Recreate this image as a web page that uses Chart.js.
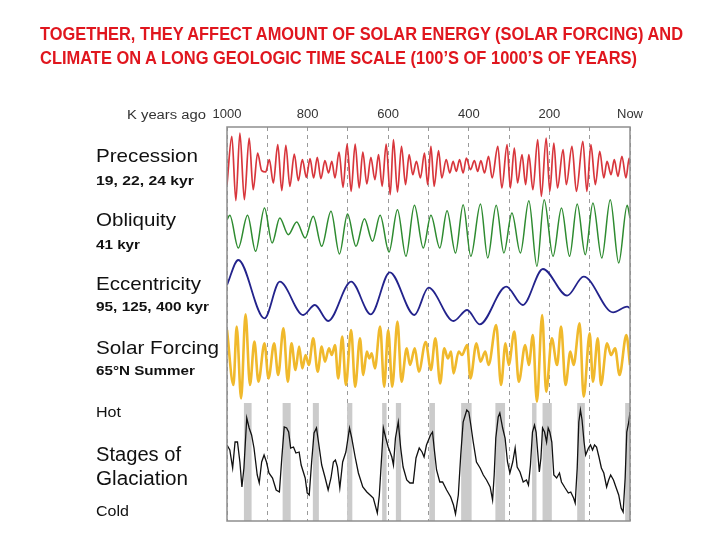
<!DOCTYPE html>
<html><head><meta charset="utf-8">
<script src="https://cdn.jsdelivr.net/npm/chart.js@4.4.1/dist/chart.umd.min.js"></script>
<style>
html,body{margin:0;padding:0;background:#fff;}
#wrap{position:relative;width:720px;height:540px;overflow:hidden;background:#fff;}
canvas{position:absolute;left:0;top:0;}
.t{position:absolute;white-space:nowrap;line-height:1;transform-origin:0 0;font-family:"Liberation Sans",Arial,sans-serif;color:#111;}
.title{color:#e0161e;font-weight:bold;font-size:18px;left:40px;}
.big{font-size:19px;left:96px;}
.sub{font-size:13px;font-weight:bold;left:96px;}
.mid{font-size:15px;left:96px;}
.stg{font-size:20px;left:96px;}
</style></head><body>
<div id="wrap">
<canvas id="c" width="720" height="540"></canvas>
<div class="t title" style="top:25px" data-w="643">TOGETHER, THEY AFFECT AMOUNT OF SOLAR ENERGY (SOLAR FORCING) AND</div>
<div class="t title" style="top:49px" data-w="597">CLIMATE ON A LONG GEOLOGIC TIME SCALE (100’S OF 1000’S OF YEARS)</div>
<div class="t" style="left:127px;top:109px;font-size:12px;color:#333" data-w="79">K years ago</div>
<div class="t big" style="top:146px" data-w="102">Precession</div>
<div class="t sub" style="top:174px" data-w="98">19, 22, 24 kyr</div>
<div class="t big" style="top:210px" data-w="80">Obliquity</div>
<div class="t sub" style="top:238px" data-w="44">41 kyr</div>
<div class="t big" style="top:274px" data-w="105">Eccentricity</div>
<div class="t sub" style="top:300px" data-w="113">95, 125, 400 kyr</div>
<div class="t big" style="top:338px" data-w="123">Solar Forcing</div>
<div class="t sub" style="top:364px" data-w="99">65°N Summer</div>
<div class="t mid" style="top:404px" data-w="25">Hot</div>
<div class="t stg" style="top:444px" data-w="85">Stages of</div>
<div class="t stg" style="top:468px" data-w="92">Glaciation</div>
<div class="t mid" style="top:503px" data-w="33">Cold</div>
</div>
<script>
// ---- data (ages in thousands of years ago; values in relative units) ----
const tickValues = [1000, 800, 600, 400, 200, 0];
const tickLabels = ['1000', '800', '600', '400', '200', 'Now'];

const precessionAge = [1000,988,978,968,957,945,935,924,914,904,895,885,874,864,854,844,833,823,813,803,794,785,776,767,757,748,740,732,722,712,702,692,682,672,663,653,643,633,624,615,605,595,587,577,567,557,548,539,530,520,510,502,494,486,475,467,456,447,439,431,423,414,406,396,386,378,370,361,351,342,328,318,305,297,287,279,268,259,251,241,229,220,208,199,189,180,166,158,144,133,117,107,97,86,75,65,57,47,39,30,20,10,2,0];
const precessionValue = [-56,89,-104,99,-101,84,-71,39,-14,-18,19,-51,64,-74,62,-61,36,-44,19,-34,22,-36,26,-38,16,-21,14,-36,42,-64,66,-76,66,-66,42,-54,26,-41,34,-61,66,-86,79,-78,59,-56,34,-26,14,-36,39,-56,59,-61,46,-36,19,-21,14,-16,19,-21,24,-11,16,-16,16,-21,29,-36,59,-66,64,-66,54,-51,34,-56,34,-71,79,-91,84,-76,69,-66,49,-56,59,-76,74,-76,64,-56,44,-36,14,-26,19,-31,29,-36,24,4];

const obliquityAge = [1000,993,972,949,929,907,888,869,848,827,806,786,765,742,721,701,680,659,639,620,598,577,556,535,513,494,472,454,433,414,395,371,353,332,313,293,272,251,231,213,191,170,150,131,111,92,70,49,28,7,0];
const obliquityValue = [40,53,-45,53,-55,75,-30,45,-5,33,-15,50,-40,65,-63,57,-40,43,-25,53,-57,70,-70,83,-45,53,-45,67,-60,85,-70,87,-75,83,-60,60,-60,97,-100,100,-70,75,-70,87,-65,90,-75,100,-90,83,45];

const eccentricityAge = [1000,972,907,869,811,782,749,692,643,596,535,500,438,404,373,307,266,216,156,115,42,7,0];
const eccentricityValue = [15,90,-85,25,-75,-45,-93,25,-73,53,-75,7,-93,-60,-103,10,-45,63,-17,40,-67,-50,-55];

const solarAge = [1000,984,976,965,954,943,932,922,907,897,883,873,860,849,840,830,821,813,805,797,786,775,765,757,747,740,732,724,714,705,692,682,670,662,653,647,641,633,620,610,600,590,577,567,554,546,534,524,507,494,483,471,461,452,444,438,425,417,404,396,381,371,359,351,332,320,309,301,287,276,260,251,241,231,218,208,194,181,171,160,148,140,125,115,100,92,80,72,57,47,37,26,9,0];
const solarValue = [81,-84,91,-124,128,-84,46,-74,41,-64,41,-54,86,-74,41,-39,31,-34,6,-24,56,-44,31,-14,26,6,36,-64,61,-84,81,-89,56,-54,16,-4,11,-34,91,-89,81,-89,106,-74,26,-24,26,-44,45,-39,56,-79,26,-4,16,-49,16,6,36,-64,41,-14,16,-24,96,-84,41,-24,76,-74,36,-24,66,-134,126,-104,56,-24,91,-84,16,-24,101,-119,71,-74,56,-84,41,6,26,-54,66,-24];

const glaciationAge = [1000,993,986,980,974,968,963,958,951,945,939,933,925,920,914,908,902,896,887,878,870,864,858,852,847,842,835,829,821,816,806,801,796,790,784,778,773,765,757,749,742,736,731,726,720,713,705,696,691,682,674,663,653,645,637,627,622,616,612,606,600,591,587,582,575,569,563,554,546,538,531,523,516,511,505,495,490,486,480,472,465,455,445,438,433,426,420,414,405,400,395,389,381,372,364,356,347,341,337,333,327,323,316,310,304,298,291,285,280,273,265,257,252,247,242,237,233,229,225,221,217,212,207,203,199,194,189,182,175,170,161,153,147,140,136,131,127,123,119,114,110,103,98,93,88,83,77,71,65,58,53,48,41,35,28,22,17,12,8,3,0];
const glaciationValue = [70,65,47,73,73,53,28,47,97,87,80,67,40,32,53,60,53,42,37,25,23,57,88,87,83,67,68,62,63,50,37,22,20,53,82,87,73,50,38,25,37,53,55,48,27,53,63,87,78,58,42,28,23,20,17,2,20,60,87,77,68,58,50,77,93,67,48,35,32,32,57,67,63,58,70,80,83,67,45,33,33,25,18,10,1,20,60,93,105,103,90,73,53,47,40,35,28,15,40,77,98,102,87,77,53,42,53,67,48,43,33,35,30,50,83,90,83,63,43,57,87,83,73,87,83,73,40,37,42,33,27,22,23,17,12,47,93,105,95,73,60,67,70,65,70,68,58,47,42,28,35,40,35,28,20,7,3,37,83,93,103];

// interglacial (warm) periods, shaded
const warmStart = [958,862,787,702,615,581,498,419,334,243,217,131,12];
const warmEnd   = [939,842,772,689,604,568,484,393,310,232,194,112,0];

// ---- scale text to measured widths ----
document.querySelectorAll('[data-w]').forEach(el => {
  const w = parseFloat(el.dataset.w);
  const nat = el.getBoundingClientRect().width;
  if (nat > 0) el.style.transform = 'scaleX(' + (w / nat) + ')';
});

const pts = (a, v) => a.map((x, i) => ({x: x, y: v[i]}));
const warmPts = [{x: 1000, y: 0}];
warmStart.forEach((s, i) => { warmPts.push({x: s, y: 1}); warmPts.push({x: warmEnd[i], y: i === warmStart.length - 1 ? 1 : 0}); });

const line = (id, data, color, w, extra) => Object.assign({
  data: data, yAxisID: id, borderColor: color, borderWidth: w, pointRadius: 0,
  fill: false, cubicInterpolationMode: 'monotone', order: 1
}, extra || {});

const frame = {
  id: 'frame',
  afterDraw(c) {
    const a = c.chartArea, ctx = c.ctx;
    ctx.save();
    ctx.strokeStyle = '#8e8e8e';
    ctx.lineWidth = 1.5;
    ctx.strokeRect(a.left, a.top, a.right - a.left, a.bottom - a.top);
    ctx.restore();
  }
};

const hid = (min, max) => ({type: 'linear', display: false, min: min, max: max});

new Chart(document.getElementById('c'), {
  type: 'line',
  data: {
    datasets: [
      {data: warmPts, yAxisID: 'yB', stepped: 'before', borderWidth: 0, borderColor: 'rgba(0,0,0,0)',
       backgroundColor: '#cbcbcb', fill: 'origin', pointRadius: 0, order: 10},
      line('yP', pts(precessionAge, precessionValue), '#d8363c', 1.7),
      line('yO', pts(obliquityAge, obliquityValue), '#2e8b30', 1.5),
      line('yE', pts(eccentricityAge, eccentricityValue), '#23238c', 1.8),
      line('yS', pts(solarAge, solarValue), '#f0b92c', 2.6),
      line('yG', pts(glaciationAge, glaciationValue), '#111111', 1.3, {cubicInterpolationMode: 'default', tension: 0})
    ]
  },
  options: {
    responsive: false,
    animation: false,
    events: [],
    layout: {padding: {left: 227, right: 90, top: 0, bottom: 19}},
    plugins: {legend: {display: false}, tooltip: {enabled: false}, title: {display: false}},
    scales: {
      x: {
        type: 'linear', position: 'top', reverse: true, min: 0, max: 1000,
        afterFit: s => { s.height = 127; },
        afterBuildTicks: s => {
          const t = [];
          for (let v = 0; v <= 1000; v += 100) t.push({value: v});
          s.ticks = t;
        },
        grid: {color: '#9a9a9a', lineWidth: 1, drawTicks: false},
        border: {display: false, dash: [4, 4]},
        ticks: {
          autoSkip: false, maxRotation: 0, padding: 5, color: '#333',
          font: {family: 'Liberation Sans', size: 13},
          callback: v => { const i = tickValues.indexOf(v); return i >= 0 ? tickLabels[i] : ''; }
        }
      },
      yP: hid(-1065, 117),
      yO: hid(-864, 318),
      yE: hid(-693, 489),
      yS: hid(-492, 690),
      yG: hid(-6, 388),
      yB: hid(0, 3.339)
    }
  },
  plugins: [frame]
});
</script>
</body></html>
